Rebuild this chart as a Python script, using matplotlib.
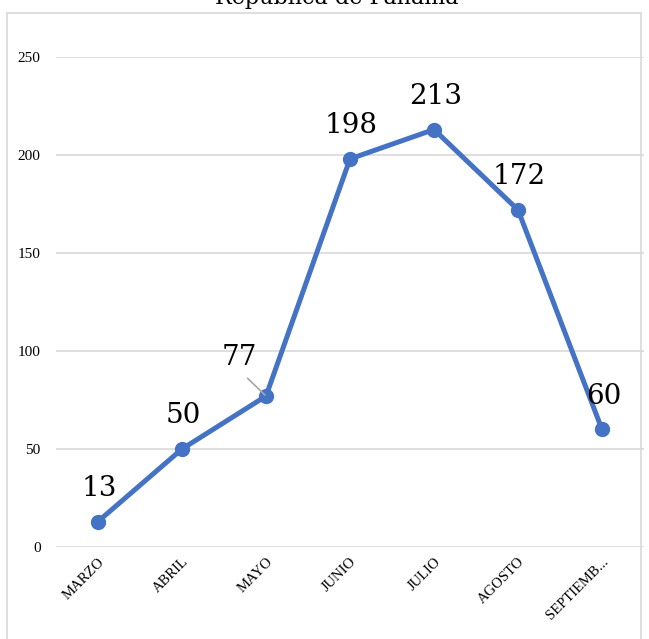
import numpy as np
import matplotlib.pyplot as plt
from matplotlib.patches import Rectangle

# data
meses = ['MARZO', 'ABRIL', 'MAYO', 'JUNIO', 'JULIO', 'AGOSTO', 'SEPTIEMB...']
casos = [13, 50, 77, 198, 213, 172, 60]
yticks = [0, 50, 100, 150, 200, 250]

azul = '#4472C4'
plt.rcParams['font.family'] = ['Liberation Serif', 'DejaVu Serif']

fig = plt.figure(figsize=(6.49, 6.39), dpi=100)
ax = fig.add_axes([0.0863, 0.144, 0.906, 0.7668])

x = np.arange(len(meses))
ax.plot(x, casos, color=azul, lw=3.6, marker='o', ms=10, zorder=3)

ax.set_xlim(-0.5, len(meses) - 0.5)
ax.set_ylim(0, 250)
ax.set_yticks(yticks)
ax.set_yticklabels([str(v) for v in yticks], fontsize=11)
ax.set_xticks(x)
ax.set_xticklabels(meses, rotation=45, ha='right', rotation_mode='anchor', fontsize=10.5)
ax.tick_params(length=0)
ax.tick_params(axis='y', pad=11)
ax.tick_params(axis='x', pad=6)
ax.grid(axis='y', color='#d9d9d9', lw=1.2)
ax.set_axisbelow(True)
for s in ax.spines.values():
    s.set_visible(False)

# data labels
for i, v in enumerate(casos):
    if i == 2:
        ax.annotate(str(v), (i, v), xytext=(-19, 28), textcoords='offset points',
                    ha='center', va='center', fontsize=20, family='DejaVu Serif',
                    zorder=4,
                    arrowprops=dict(arrowstyle='-', color='#a6a6a6', lw=1.2,
                                    relpos=(0.5, 0), shrinkA=5, shrinkB=1))
    else:
        ax.annotate(str(v), (i, v), xytext=(1, 24), textcoords='offset points',
                    ha='center', va='center', fontsize=20, family='DejaVu Serif')

# title (cut at top) and chart border
fig.text(0.519, 0.9945, 'República de Panamá', ha='center', va='baseline',
         fontsize=16, family='DejaVu Serif')
fig.patches.append(Rectangle((7 / 649, -0.05), 634 / 649, 1.05 - 13 / 639,
                             transform=fig.transFigure, fill=False,
                             edgecolor='#d9d9d9', lw=1.2))

plt.savefig('out.png', dpi=100)
